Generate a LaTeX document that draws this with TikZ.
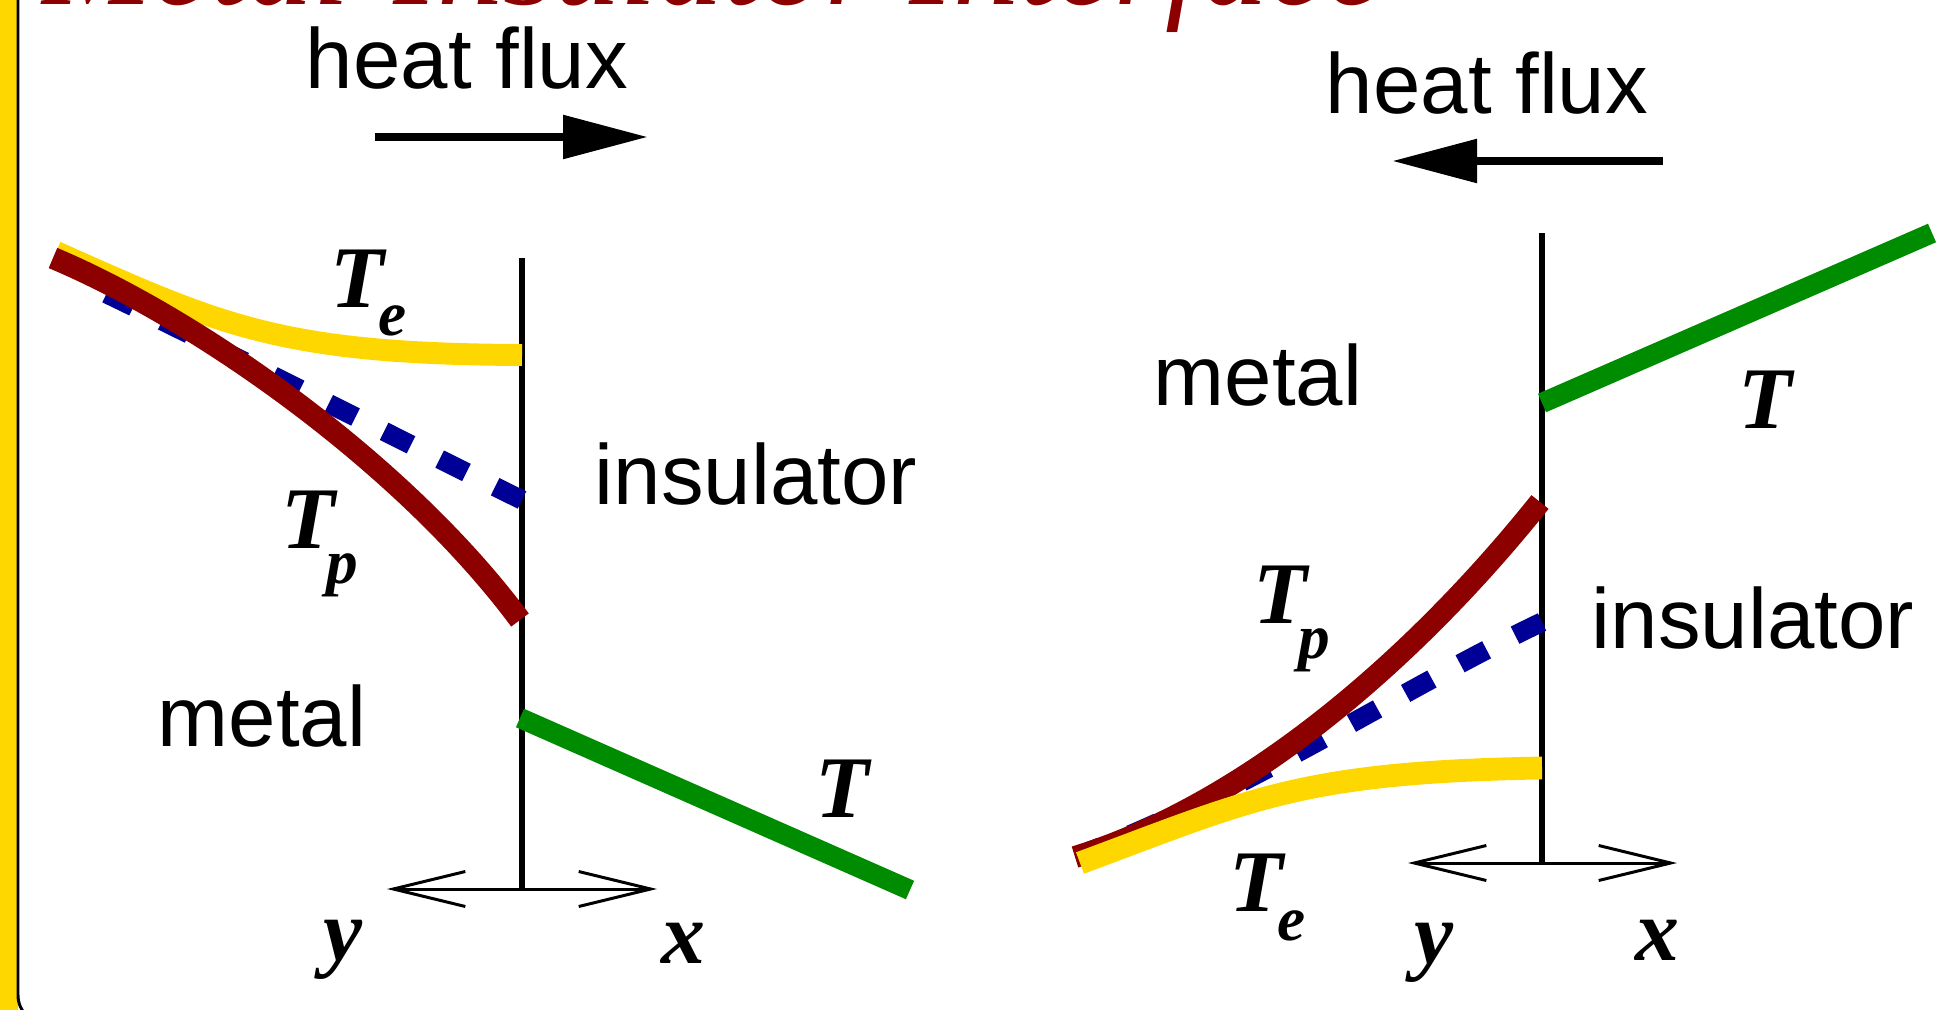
\documentclass[tikz,border=0pt]{standalone}
\usepackage{fontspec}
\setmainfont{Liberation Sans}
\newfontfamily\symfont{Liberation Serif}
\usetikzlibrary{arrows.meta}

\definecolor{framegold}{RGB}{255,215,0}
\definecolor{tpred}{RGB}{140,0,0}
\definecolor{tgreen}{RGB}{0,140,0}
\definecolor{tblue}{RGB}{0,0,150}

\newcommand{\Tsub}[3]{T\kern#2\raisebox{#3}{\fontsize{36}{40}\selectfont #1}}

\begin{document}
\begin{tikzpicture}[x=0.02cm, y=-0.02cm,
  word/.style={font=\fontsize{48.5}{56}\selectfont, inner sep=0pt, anchor=base},
  sym/.style={font=\symfont\bfseries\itshape\fontsize{50}{56}\selectfont, inner sep=0pt, anchor=base west},
  wall/.style={line width=3.8pt},
  axis/.style={line width=1.7pt, {Straight Barb[length=1.44cm,width=0.7cm]}-{Straight Barb[length=1.44cm,width=0.7cm]}},
  flux/.style={line width=5pt, -{Triangle[length=1.7cm,width=0.84cm]}},
  temp/.style={line width=12.5pt},
  dashtemp/.style={line width=11pt, tblue, dash pattern=on 0.6cm off 0.64cm}]
\useasboundingbox (0,0) rectangle (1936,1010);
\fill[framegold] (0,-60) rectangle (18,1040);
\draw[line width=1.7pt, rounded corners=0.6cm] (18,-60) -- (18,1025) -- (2000,1025);
\node[font=\symfont\itshape\fontsize{75}{80}\selectfont, text=tpred, inner sep=0pt, anchor=base west] (title) at (42,5) {Metal-Insulator Interface};

% left: heat flows into the insulator
\node[word] (fluxL) at (467,89) {heat flux};
\coordinate (fluxLa) at (375,137);
\coordinate (fluxLb) at (648,137);
\draw[flux] (fluxLa) -- (fluxLb);
\coordinate (wallLtop) at (522,258);
\coordinate (wallLbot) at (522,889);
\coordinate (axisLy) at (387,889);
\coordinate (axisLx) at (657,889);
\draw[wall] (wallLtop) -- (wallLbot);
\draw[axis] (axisLy) -- (axisLx);
\draw[temp, framegold] (56,252) .. controls (220,325) and (280,354) .. (522,355);
\draw[dashtemp] (522,500) .. controls (400,440) and (200,338) .. (78,280);
\draw[temp, tpred] (53,258) .. controls (200,320) and (405,465) .. (520,620);
\draw[line width=11.5pt, tgreen] (520,718) -- (910,890);
\node[sym] (TeL) at (330,307) {\Tsub{e}{-3pt}{-16pt}};
\node[sym] (TpL) at (281,548) {\Tsub{p}{-5pt}{-20pt}};
\node[sym] (TL) at (815,817) {T};
\node[word] (insL) at (756,504) {insulator};
\node[word] (metL) at (262,746) {metal};
\node[sym, anchor=base] (yL) at (343,960) {y};
\node[sym, anchor=base] (xL) at (683,963) {x};

% right: heat flows into the metal
\node[word] (fluxR) at (1487,114) {heat flux};
\coordinate (fluxRa) at (1663,161);
\coordinate (fluxRb) at (1392,161);
\draw[flux] (fluxRa) -- (fluxRb);
\coordinate (wallRtop) at (1542,233);
\coordinate (wallRbot) at (1542,863);
\coordinate (axisRy) at (1408,863);
\coordinate (axisRx) at (1677,863);
\draw[wall] (wallRtop) -- (wallRbot);
\draw[axis] (axisRy) -- (axisRx);
\draw[dashtemp] (1542,622) .. controls (1400,690) and (1250,790) .. (1085,853);
\draw[temp, tpred] (1075,857) .. controls (1260,800) and (1430,640) .. (1540,502);
\draw[line width=13pt, framegold] (1080,863) .. controls (1250,800) and (1300,772) .. (1542,768);
\draw[line width=11.5pt, tgreen] (1542,403) -- (1932,233);
\node[sym] (TpR) at (1253,623) {\Tsub{p}{-5pt}{-20pt}};
\node[sym] (TeR) at (1229,911) {\Tsub{e}{-3pt}{-17pt}};
\node[sym] (TR) at (1738,428) {T};
\node[word] (metR) at (1258,405) {metal};
\node[word] (insR) at (1753,648) {insulator};
\node[sym, anchor=base] (yR) at (1434,963) {y};
\node[sym, anchor=base] (xR) at (1657,960) {x};
\end{tikzpicture}
\end{document}
